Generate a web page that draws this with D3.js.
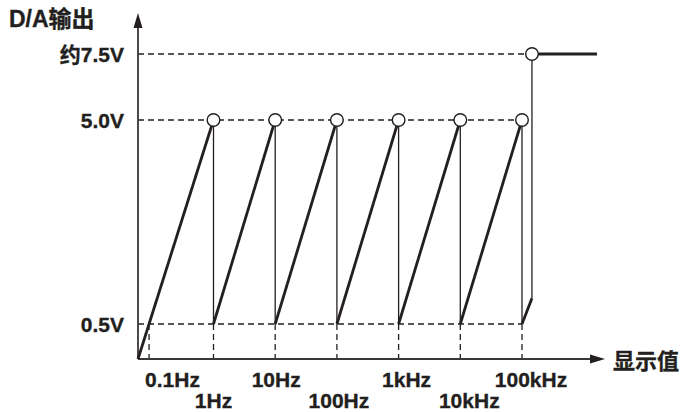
<!DOCTYPE html>
<html><head><meta charset="utf-8">
<script src="https://cdn.jsdelivr.net/npm/d3@7/dist/d3.min.js"></script>
<style>
html,body{margin:0;padding:0;background:#fff;}
svg{display:block;}
text{font-family:"Liberation Sans","Noto Sans CJK SC",Arial,sans-serif;font-weight:bold;fill:#231f20;stroke:#231f20;stroke-width:0.35px;}
</style></head>
<body>
<svg id="c" width="682" height="412"></svg>
<script>
// ---- data ----
const freqLabels = ["0.1Hz","1Hz","10Hz","100Hz","1kHz","10kHz","100kHz"];
const freqValues = [0.1, 1, 10, 100, 1000, 10000, 100000];
const voltLabels = ["0.5V","5.0V","约7.5V"];
const voltValues = [0.5, 5.0, 7.5];
const rampStartFreq = [1, 10, 100, 1000, 10000];
const rampEndFreq   = [10, 100, 1000, 10000, 100000];
const rampLowV = 0.5, rampHighV = 5.0;
const overflowFreq = 145000;      // point where the display overflows
const overflowStartV = 1.07;      // value reached on last ramp before jump
const overflowV = 7.5;            // approx 7.5V output
const overflowEndFreq = 1640000;  // end of the flat line
const yTitle = "D/A输出", xTitle = "显示值";

// ---- layout ----
const ink = "#231f20";
const x0 = 138, yAxisBottom = 359;
const svg = d3.select("#c");
const x = d3.scaleLog().domain([1, 100000]).range([213.5, 522]);
const y = d3.scaleLinear().domain([0, 0.5, 5, 7.5]).range([yAxisBottom, 324, 120, 54]);

// first ramp runs from origin to (1Hz, 5V); 0.1Hz marks where it crosses 0.5V
const firstRampX = v => x0 + (x(1) - x0) * ((y(0) - y(v)) / (y(0) - y(rampHighV)));
const fx = f => f < 1 ? firstRampX(rampLowV) : x(f);

// dashed guides
const dash = svg.append("g").attr("stroke", ink).attr("stroke-width", 1.3).attr("stroke-dasharray", "6,4").attr("fill", "none");
dash.append("line").attr("x1", x0).attr("x2", x(100000)).attr("y1", y(0.5)).attr("y2", y(0.5));
dash.append("line").attr("x1", x0).attr("x2", x(100000) - 6).attr("y1", y(5)).attr("y2", y(5));
dash.append("line").attr("x1", x0).attr("x2", x(overflowFreq) - 6).attr("y1", y(7.5)).attr("y2", y(7.5));
freqValues.forEach(f => {
  dash.append("line").attr("x1", fx(f)).attr("x2", fx(f)).attr("y1", y(0.5)).attr("y2", y(0));
});

// axes
const ax = svg.append("g");
ax.append("line").attr("x1", x0).attr("x2", 592).attr("y1", y(0)).attr("y2", y(0)).attr("stroke", "#3a3536").attr("stroke-width", 1.8);
ax.append("path").attr("d", `M605,${y(0)} L590,${y(0)-4.5} L590,${y(0)+4.5} Z`).attr("fill", ink);
ax.append("line").attr("x1", x0).attr("x2", x0).attr("y1", y(0)).attr("y2", 26).attr("stroke", "#3a3536").attr("stroke-width", 1.8);
ax.append("path").attr("d", `M${x0},13 L${x0-4.5},28 L${x0+4.5},28 Z`).attr("fill", ink);

// thin vertical drops
const thin = svg.append("g").attr("stroke", ink).attr("stroke-width", 1.3);
[1].concat(rampEndFreq).forEach(f => {
  thin.append("line").attr("x1", x(f)).attr("x2", x(f)).attr("y1", y(rampHighV)).attr("y2", y(rampLowV));
});
thin.append("line").attr("x1", x(overflowFreq)).attr("x2", x(overflowFreq)).attr("y1", y(overflowStartV)).attr("y2", y(overflowV));

// thick ramps
const thick = svg.append("g").attr("stroke", ink).attr("stroke-width", 2.8).attr("stroke-linecap", "butt");
thick.append("line").attr("x1", x0).attr("y1", y(0)).attr("x2", x(1)).attr("y2", y(rampHighV));
rampStartFreq.forEach((f, i) => {
  thick.append("line").attr("x1", x(f)).attr("y1", y(rampLowV)).attr("x2", x(rampEndFreq[i])).attr("y2", y(rampHighV));
});
thick.append("line").attr("x1", x(100000)).attr("y1", y(rampLowV)).attr("x2", x(overflowFreq)).attr("y2", y(overflowStartV));
thick.append("line").attr("x1", x(overflowFreq)).attr("y1", y(overflowV)).attr("x2", x(overflowEndFreq)).attr("y2", y(overflowV));

// open circles
const circ = svg.append("g").attr("fill", "#fff").attr("stroke", ink).attr("stroke-width", 1.4);
[1].concat(rampEndFreq).forEach(f => {
  circ.append("circle").attr("cx", x(f)).attr("cy", y(rampHighV)).attr("r", 6.3);
});
circ.append("circle").attr("cx", x(overflowFreq)).attr("cy", y(overflowV)).attr("r", 6.3);

// y labels
voltValues.forEach((v, i) => {
  svg.append("text").attr("x", 124).attr("y", y(v) + 7.5).attr("text-anchor", "end").attr("font-size", 21).text(voltLabels[i]);
});
svg.append("text").attr("x", 9).attr("y", 27).attr("font-size", 23).text(yTitle);

// x labels (alternating rows)
const labelShift = [-4, 0, 1, 2, 8, 9, 9];
freqValues.forEach((f, i) => {
  const row = (i % 2 === 0) ? 387 : 408;
  const t = svg.append("text").attr("y", row).attr("font-size", 21).text(freqLabels[i]);
  if (i === 0) t.attr("x", fx(f) + labelShift[i]).attr("text-anchor", "start");
  else t.attr("x", fx(f) + labelShift[i]).attr("text-anchor", "middle");
});
svg.append("text").attr("x", 613).attr("y", 369).attr("font-size", 22).text(xTitle);
</script>
</body></html>
